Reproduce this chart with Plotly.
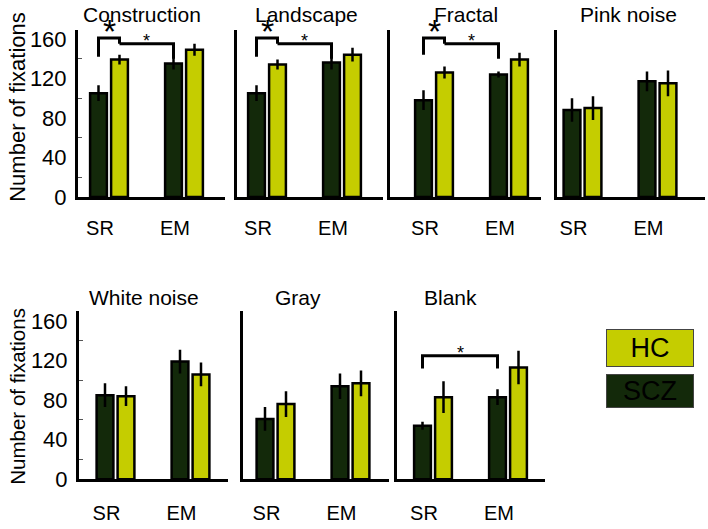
import plotly.graph_objects as go

# data
panels = ["Construction", "Landscape", "Fractal", "Pink noise", "White noise", "Gray", "Blank"]
conditions = ["SR", "EM"]
groups = ["SCZ", "HC"]

scz_sr = [105, 105, 98, 88, 85, 61, 54]
hc_sr = [139, 134, 126, 90, 84, 76, 83]
scz_em = [135, 136, 124, 117, 119, 94, 83]
hc_em = [149, 144, 139, 115, 106, 97, 113]

scz_sr_err = [8, 8, 10, 12, 12, 12, 4]
hc_sr_err = [5, 5, 6, 12, 10, 13, 16]
scz_em_err = [6, 7, 3, 10, 12, 13, 8]
hc_em_err = [6, 7, 7, 13, 12, 13, 17]

y_ticks = [0, 40, 80, 120, 160]

# significance brackets: panel, from (cond, group), to (cond, group), top, left end, right end, star
brackets = [
    (0, ("SR", "SCZ"), ("SR", "HC"), 161, 142, 155, "big"),
    (0, ("SR", "HC"), ("EM", "SCZ"), 155, 155, 140, "small"),
    (1, ("SR", "SCZ"), ("SR", "HC"), 161, 142, 155, "big"),
    (1, ("SR", "HC"), ("EM", "SCZ"), 155, 155, 140, "small"),
    (2, ("SR", "SCZ"), ("SR", "HC"), 161, 144, 155, "big"),
    (2, ("SR", "HC"), ("EM", "SCZ"), 155, 155, 140, "small"),
    (6, ("SR", "SCZ"), ("EM", "SCZ"), 125, 112, 112, "small"),
]

SCZ_COLOR = "#13290a"
HC_COLOR = "#c5cd00"
FONT = "Liberation Sans, Arial, sans-serif"

W, H = 708, 529

# panel frames in pixels: x0, x1, y_top, y_zero, offset of SR group from axis
frames = [
    (78, 225, 28, 200, 31),
    (237, 383, 28, 200, 30),
    (390, 541, 28, 200, 44),
    (557, 705, 28, 200, 25.5),
    (79, 228, 318, 491, 36.5),
    (243, 389, 318, 491, 32.5),
    (397, 545, 318, 491, 36),
]
PX_PER_CAT = 75.0
BARGAP = 0.44
SLOT = (1 - BARGAP) / 2

fig = go.Figure()

for i, name in enumerate(panels):
    sfx = "" if i == 0 else str(i + 1)
    xa, ya = "x" + sfx, "y" + sfx
    fig.add_trace(go.Bar(
        x=[0, 1], y=[scz_sr[i], scz_em[i]],
        error_y=dict(type="data", array=[scz_sr_err[i], scz_em_err[i]],
                     color="black", thickness=2.5, width=0),
        marker=dict(color=SCZ_COLOR, line=dict(color="black", width=2.5)),
        xaxis=xa, yaxis=ya, offsetgroup="scz", name="SCZ"
    ))
    fig.add_trace(go.Bar(
        x=[0, 1], y=[hc_sr[i], hc_em[i]],
        error_y=dict(type="data", array=[hc_sr_err[i], hc_em_err[i]],
                     color="black", thickness=2.5, width=0),
        marker=dict(color=HC_COLOR, line=dict(color="black", width=2.5)),
        xaxis=xa, yaxis=ya, offsetgroup="hc", name="HC"
    ))


def pos(key):
    cond, grp = key
    c = conditions.index(cond)
    return c + (-SLOT / 2 if grp == "SCZ" else SLOT / 2)


annotations = []
for p, a, b, top, e0, e1, star in brackets:
    sfx = "" if p == 0 else str(p + 1)
    x0, x1 = pos(a), pos(b)
    fig.add_trace(go.Scatter(
        x=[x0, x0, x1, x1], y=[e0, top, top, e1], mode="lines",
        line=dict(color="black", width=3), xaxis="x" + sfx, yaxis="y" + sfx,
        cliponaxis=False, hoverinfo="skip"
    ))
    size = 34 if star == "big" else 18
    annotations.append(dict(
        x=(x0 + x1) / 2, y=top, xref="x" + sfx, yref="y" + sfx, text="*",
        showarrow=False, font=dict(family=FONT, size=size, color="black"),
        yanchor="bottom", yshift=(-14 if star == "big" else -9)
    ))

layout = {}
for i, (px0, px1, ptop, pzero, off) in enumerate(frames):
    sfx = "" if i == 0 else str(i + 1)
    left = -off / PX_PER_CAT
    right = left + (px1 - px0) / PX_PER_CAT
    height = pzero - ptop
    ymax = height / (163.0 / 160)
    first_col = i in (0, 4)
    top_row = i < 4
    layout["xaxis" + sfx] = dict(
        domain=[px0 / W, px1 / W], anchor="y" + sfx, range=[left, right],
        tickvals=[0, 1], ticktext=conditions, ticks="",
        showline=True, linecolor="black", linewidth=3, showgrid=False,
        zeroline=False, tickfont=dict(family=FONT, size=20, color="black"),
        ticklabelstandoff=11 if top_row else 14, ticklabelshift=-9,
        fixedrange=True
    )
    layout["yaxis" + sfx] = dict(
        domain=[(H - pzero) / H, (H - ptop) / H], anchor="x" + sfx,
        range=[0, ymax], tickvals=y_ticks, showticklabels=first_col,
        ticks="", showline=True, linecolor="black", linewidth=3,
        showgrid=False, zeroline=False,
        tickfont=dict(family=FONT, size=22, color="black"),
        ticklabelstandoff=4,
        minor=dict(tickvals=[20, 60, 100, 140], ticks="inside", ticklen=4,
                   tickcolor="#555555", tickwidth=1) if first_col else None,
        fixedrange=True
    )
    annotations.append(dict(
        x=[142, 306, 466, 628, 144, 298, 450][i] / W,
        y=(H - (12 if top_row else 304)) / H, xref="paper", yref="paper",
        text=panels[i], showarrow=False,
        font=dict(family=FONT, size=21, color="black"),
        xanchor="center", yanchor="middle"
    ))

for yc, fs in ((107, 22), (406, 20.5)):
    annotations.append(dict(
        x=18 / W, y=(H - yc) / H, xref="paper", yref="paper",
        text="Number of fixations", textangle=-90, showarrow=False,
        font=dict(family=FONT, size=fs, color="black"),
        xanchor="center", yanchor="middle"
    ))

# legend boxes
for label, color, yc, h in (("HC", HC_COLOR, 356, 34), ("SCZ", SCZ_COLOR, 400, 30)):
    annotations.append(dict(
        x=650 / W, y=(H - yc) / H, xref="paper", yref="paper",
        text=label, showarrow=False, width=84, height=h,
        bgcolor=color, bordercolor="#444444", borderwidth=1, borderpad=1,
        font=dict(family=FONT, size=27, color="black"),
        xanchor="center", yanchor="middle"
    ))

fig.update_layout(
    **layout,
    annotations=annotations,
    barmode="group", bargap=BARGAP, bargroupgap=0.2,
    showlegend=False,
    width=W, height=H,
    margin=dict(l=0, r=0, t=0, b=0),
    plot_bgcolor="white", paper_bgcolor="white",
    font=dict(family=FONT, color="black")
)

fig.write_html(
    "out.html", config=dict(displayModeBar=False),
    post_script=(
        "document.documentElement.style.margin='0';"
        "document.documentElement.style.overflow='hidden';"
        "document.body.style.margin='0';"
        "document.body.style.overflow='hidden';"
    )
)
